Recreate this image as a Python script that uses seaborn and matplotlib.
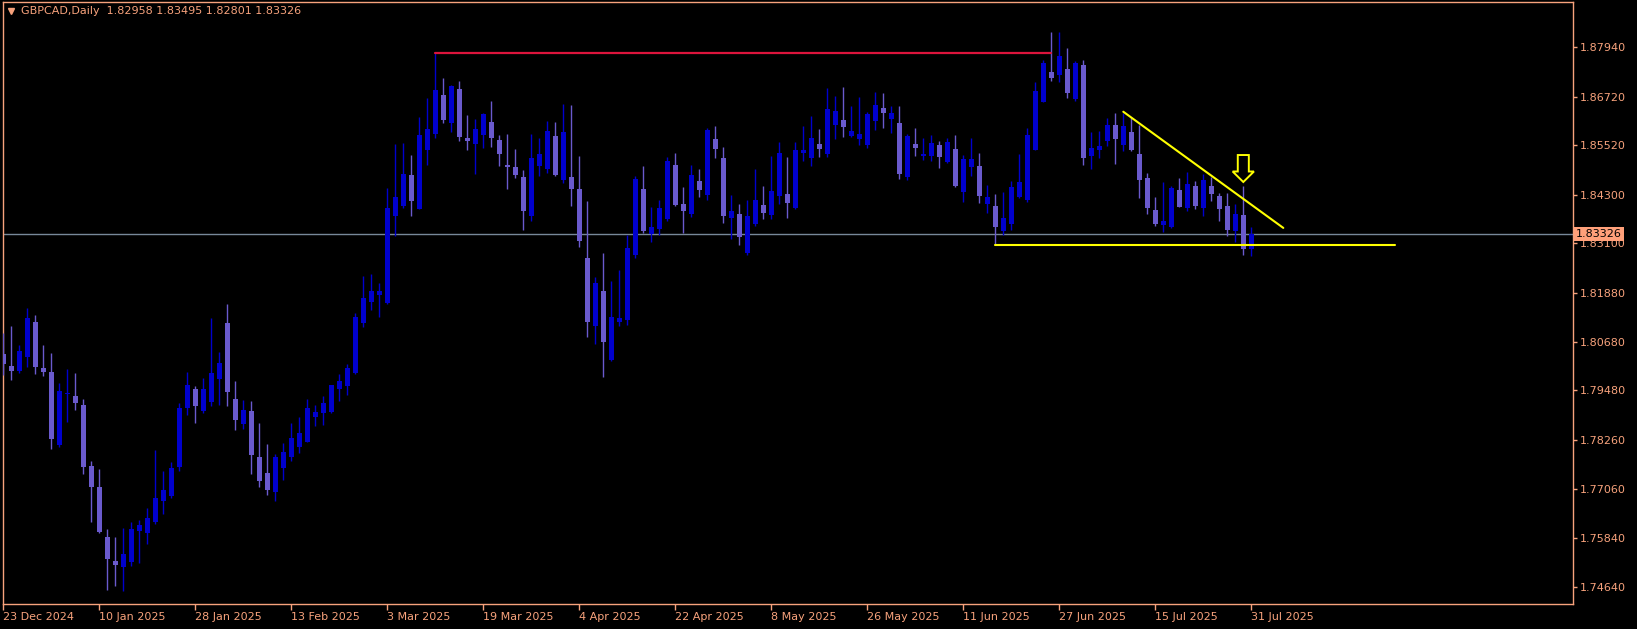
import numpy as np
import pandas as pd
import seaborn as sns
import matplotlib
matplotlib.use("Agg")
import matplotlib.pyplot as plt
import matplotlib.transforms as mtransforms
from matplotlib.patches import Polygon

symbol = "GBPCAD,Daily"

opens = [1.80374, 1.80079, 1.79955, 1.80300, 1.81163, 1.80029, 1.79931, 1.78139, 1.79396, 1.79339,
         1.79118, 1.77609, 1.77097, 1.75860, 1.75276, 1.75138, 1.75256, 1.76018, 1.75958, 1.76234,
         1.76749, 1.76878, 1.77590, 1.79051, 1.79512, 1.78975, 1.79204, 1.79758, 1.81138, 1.79261,
         1.78659, 1.78965, 1.77836, 1.77442, 1.76986, 1.77560, 1.77836, 1.78095, 1.78213, 1.78822,
         1.78923, 1.78945, 1.79512, 1.79586, 1.79906, 1.81138, 1.81656, 1.81828, 1.81631, 1.83775,
         1.84022, 1.84785, 1.83948, 1.85409, 1.85803, 1.86757, 1.86067, 1.86905, 1.85697, 1.85557,
         1.85771, 1.86092, 1.85648, 1.85032, 1.84983, 1.84736, 1.83775, 1.85007, 1.84933, 1.85747,
         1.84662, 1.84736, 1.84441, 1.82740, 1.81064, 1.81929, 1.80229, 1.81158, 1.81217, 1.82814,
         1.84441, 1.83332, 1.83455, 1.83701, 1.85032, 1.84071, 1.83824, 1.84638, 1.84293, 1.85673,
         1.85204, 1.83726, 1.83824, 1.82863, 1.83578, 1.84046, 1.83800, 1.84268, 1.84317, 1.83972,
         1.85328, 1.85212, 1.85549, 1.85310, 1.86018, 1.86141, 1.85747, 1.85673, 1.85525, 1.86116,
         1.86437, 1.86166, 1.86067, 1.84736, 1.85549, 1.85261, 1.85254, 1.85525, 1.85106, 1.85426,
         1.84367, 1.84983, 1.85007, 1.84071, 1.84022, 1.83406, 1.83585, 1.84243, 1.84169, 1.85409,
         1.86592, 1.87324, 1.87250, 1.87398, 1.86658, 1.87496, 1.85254, 1.85402, 1.85623, 1.86018,
         1.85525, 1.85845, 1.85303, 1.84712, 1.83923, 1.83553, 1.83504, 1.84416, 1.83972, 1.84514,
         1.83972, 1.84514, 1.84268, 1.84022, 1.83406, 1.83800, 1.82958]

highs = [1.80899, 1.81064, 1.80589, 1.81508, 1.81336, 1.80596, 1.80399, 1.79652, 1.80005, 1.79906,
         1.79265, 1.77743, 1.77545, 1.76067, 1.75870, 1.76087, 1.76244, 1.76284, 1.76592, 1.78004,
         1.77501, 1.77708, 1.79162, 1.79931, 1.79586, 1.79783, 1.81267, 1.80431, 1.81607, 1.79709,
         1.79231, 1.79211, 1.78686, 1.78154, 1.77905, 1.78184, 1.78686, 1.78815, 1.79258, 1.79118,
         1.79334, 1.79610, 1.79882, 1.80128, 1.81385, 1.82297, 1.82346, 1.82124, 1.84465, 1.85549,
         1.85574, 1.85278, 1.86207, 1.86683, 1.87785, 1.87176, 1.87003, 1.87102, 1.86264, 1.86166,
         1.86313, 1.86609, 1.85771, 1.85796, 1.85426, 1.84909, 1.85796, 1.85697, 1.86116, 1.86092,
         1.86535, 1.86511, 1.85254, 1.84155, 1.82277, 1.82858, 1.82178, 1.82444, 1.83307, 1.84761,
         1.85007, 1.83997, 1.84169, 1.85222, 1.85328, 1.84490, 1.85024, 1.84933, 1.85944, 1.85993,
         1.85468, 1.84293, 1.84071, 1.84169, 1.84933, 1.84514, 1.85254, 1.85599, 1.85229, 1.85599,
         1.85993, 1.86239, 1.85919, 1.86929, 1.86732, 1.86954, 1.86486, 1.86708, 1.86338, 1.86831,
         1.86806, 1.86486, 1.86486, 1.85796, 1.85944, 1.85697, 1.85771, 1.85623, 1.85697, 1.85771,
         1.85278, 1.85697, 1.85328, 1.84539, 1.84317, 1.84367, 1.84638, 1.85303, 1.85944, 1.87077,
         1.87619, 1.88309, 1.88309, 1.87915, 1.87595, 1.87619, 1.85845, 1.85870, 1.86190, 1.86313,
         1.86313, 1.86215, 1.86018, 1.84835, 1.84243, 1.84613, 1.84514, 1.84712, 1.84859, 1.84638,
         1.84810, 1.84736, 1.84342, 1.84342, 1.84071, 1.84514, 1.83495]

lows = [1.79864, 1.79734, 1.79914, 1.80047, 1.79882, 1.79832, 1.78033, 1.78083, 1.78699, 1.78994,
        1.77417, 1.76244, 1.75968, 1.74564, 1.74662, 1.74544, 1.75157, 1.75236, 1.75692, 1.76195,
        1.76444, 1.76838, 1.77501, 1.78871, 1.78681, 1.78913, 1.79093, 1.79118, 1.79093, 1.78499,
        1.78519, 1.77412, 1.77104, 1.76897, 1.76759, 1.77264, 1.77747, 1.77945, 1.78194, 1.78600,
        1.78632, 1.78933, 1.79216, 1.79364, 1.79882, 1.81040, 1.81459, 1.81286, 1.81619, 1.83282,
        1.83972, 1.83775, 1.83936, 1.85032, 1.85705, 1.86074, 1.85853, 1.85623, 1.85402, 1.84810,
        1.85451, 1.85476, 1.85007, 1.84441, 1.84712, 1.83430, 1.83652, 1.84761, 1.84835, 1.84761,
        1.84588, 1.84022, 1.83011, 1.80793, 1.80621, 1.79808, 1.80214, 1.81069, 1.81089, 1.82740,
        1.83356, 1.83134, 1.83307, 1.83652, 1.84022, 1.83356, 1.83751, 1.84243, 1.84169, 1.85204,
        1.83603, 1.83208, 1.83061, 1.82814, 1.83529, 1.83701, 1.83701, 1.84071, 1.83726, 1.83948,
        1.85131, 1.85007, 1.85229, 1.85229, 1.85673, 1.85722, 1.85722, 1.85525, 1.85451, 1.85894,
        1.85944, 1.85821, 1.84687, 1.84662, 1.85254, 1.85155, 1.85131, 1.84958, 1.85081, 1.84490,
        1.84120, 1.84761, 1.84096, 1.83849, 1.83065, 1.83307, 1.83430, 1.84231, 1.84120, 1.85402,
        1.86584, 1.87102, 1.87077, 1.86683, 1.86609, 1.85032, 1.84933, 1.85204, 1.85500, 1.85057,
        1.85377, 1.85377, 1.84219, 1.83824, 1.83529, 1.83381, 1.83479, 1.83985, 1.83898, 1.83948,
        1.83775, 1.84145, 1.83652, 1.83282, 1.83134, 1.82814, 1.82801]

closes = [1.80128, 1.79963, 1.80448, 1.81262, 1.80061, 1.79938, 1.78287, 1.79463, 1.79413, 1.79174,
          1.77597, 1.77104, 1.75988, 1.75325, 1.75187, 1.75453, 1.76057, 1.76156, 1.76333, 1.76828,
          1.77025, 1.77560, 1.79054, 1.79610, 1.79100, 1.79507, 1.79901, 1.80153, 1.79445, 1.78748,
          1.78994, 1.77895, 1.77255, 1.77025, 1.77836, 1.77954, 1.78302, 1.78430, 1.79054, 1.78950,
          1.79164, 1.79608, 1.79709, 1.80029, 1.81286, 1.81754, 1.81927, 1.81927, 1.83972, 1.84243,
          1.84810, 1.84145, 1.85771, 1.85919, 1.86880, 1.86141, 1.86979, 1.85722, 1.85623, 1.85919,
          1.86301, 1.85697, 1.85303, 1.84983, 1.84785, 1.83898, 1.85204, 1.85303, 1.85870, 1.84785,
          1.85845, 1.84441, 1.83159, 1.81163, 1.82124, 1.80665, 1.81286, 1.81257, 1.82987, 1.84687,
          1.83406, 1.83504, 1.83972, 1.85131, 1.84046, 1.83898, 1.84785, 1.84416, 1.85894, 1.85426,
          1.83775, 1.83898, 1.83258, 1.83775, 1.84169, 1.83849, 1.84391, 1.85328, 1.84096, 1.85402,
          1.85402, 1.85697, 1.85426, 1.86412, 1.86363, 1.85968, 1.85870, 1.85796, 1.86289, 1.86511,
          1.86313, 1.86313, 1.84810, 1.85747, 1.85451, 1.85303, 1.85574, 1.85229, 1.85599, 1.84514,
          1.85180, 1.85180, 1.84268, 1.84243, 1.83504, 1.83726, 1.84490, 1.84613, 1.85771, 1.86856,
          1.87546, 1.87176, 1.87718, 1.86806, 1.87546, 1.85204, 1.85451, 1.85500, 1.86018, 1.85673,
          1.85993, 1.85402, 1.84662, 1.83972, 1.83578, 1.83652, 1.84465, 1.83997, 1.84564, 1.84022,
          1.84662, 1.84317, 1.83948, 1.83430, 1.83824, 1.82960, 1.83326]

date_labels = ["23 Dec 2024", "10 Jan 2025", "28 Jan 2025", "13 Feb 2025", "3 Mar 2025",
               "19 Mar 2025", "4 Apr 2025", "22 Apr 2025", "8 May 2025", "26 May 2025",
               "11 Jun 2025", "27 Jun 2025", "15 Jul 2025", "31 Jul 2025"]
label_step = 12

ytick_values = [1.87940, 1.86720, 1.85520, 1.84300, 1.83100, 1.81880,
                1.80680, 1.79480, 1.78260, 1.77060, 1.75840, 1.74640]

# drawn objects
resistance_level = 1.87790
resistance_bars = [54, 131]
support_level = 1.83065
support_bars = [124, 174]
trend_bars = [140, 160]
trend_prices = [1.86345, 1.83482]
arrow_bar = 155
arrow_prices = [1.85278, 1.84872, 1.84613]  # shaft top, neck, tip

BG = "#000000"
FG = "#F7A27C"
BULL = "#0000CD"
BEAR = "#6A5ACD"
BIDLINE = "#778899"

sns.set_theme(style="dark", rc={"axes.facecolor": BG, "figure.facecolor": BG})
plt.rcParams["font.family"] = ["DejaVu Sans"]

df = pd.DataFrame({"open": opens, "high": highs, "low": lows, "close": closes})
df["bar"] = np.arange(len(df))
df["bull"] = df["close"] >= df["open"]
df["color"] = np.where(df["bull"], BULL, BEAR)
df["body_low"] = df[["open", "close"]].min(axis=1)
df["body_h"] = (df["close"] - df["open"]).abs().clip(lower=0.00025)

W, H = 1637, 629
fig = plt.figure(figsize=(W / 100, H / 100), dpi=100, facecolor=BG)
ax = fig.add_axes([2.5 / W, (H - 604) / H, (1573.3 - 2.5) / W, (604 - 2.4) / H], facecolor=BG)

# candles
ax.vlines(df["bar"], df["low"], df["high"], colors=df["color"], linewidth=1.0, zorder=3)
ax.bar(df["bar"], df["body_h"], bottom=df["body_low"], width=0.62, color=df["color"],
       linewidth=0, zorder=4)

# bid line
ax.axhline(closes[-1], color=BIDLINE, linewidth=1.0, zorder=2)

# horizontal resistance / support and trend line
sns.lineplot(x=resistance_bars, y=[resistance_level] * 2, ax=ax, color="#DC143C",
             linewidth=1.6, legend=False, zorder=5)
sns.lineplot(x=support_bars, y=[support_level] * 2, ax=ax, color="#FFFF00",
             linewidth=1.5, legend=False, zorder=5)
sns.lineplot(x=trend_bars, y=trend_prices, ax=ax, color="#FFFF00",
             linewidth=1.5, legend=False, zorder=5)

# hollow down arrow
top, neck, tip = arrow_prices
sw, hw = 0.69, 1.33
verts = [(arrow_bar - sw, top), (arrow_bar + sw, top), (arrow_bar + sw, neck),
         (arrow_bar + hw, neck), (arrow_bar, tip), (arrow_bar - hw, neck), (arrow_bar - sw, neck)]
ax.add_patch(Polygon(verts, closed=True, facecolor=BG, edgecolor="#FFFF00", linewidth=1.4, zorder=6))

ax.set_xlim(-0.1, 196.25)
ax.set_ylim(1.74214, 1.89039)

# axes styling
for sp in ax.spines.values():
    sp.set_color(FG)
    sp.set_linewidth(1.0)
    sp.set_visible(True)
ax.grid(False)

ax.yaxis.tick_right()
ax.set_yticks(ytick_values)
ax.set_yticklabels([f"{v:.5f}" for v in ytick_values])
ax.tick_params(axis="y", colors=FG, labelsize=8, length=3, width=1, direction="out", pad=2,
               left=False, right=True)

xt = list(range(0, len(opens), label_step))
ax.set_xticks(xt)
ax.set_xticklabels(date_labels[:len(xt)])
ax.tick_params(axis="x", colors=FG, labelsize=8, length=4, width=1, direction="out", pad=2,
               bottom=True)
for lbl in ax.get_xticklabels():
    lbl.set_ha("left")
ax.set_xlabel("")
ax.set_ylabel("")

# current price label on the axis
trans = mtransforms.blended_transform_factory(ax.transAxes, ax.transData)
ax.text(1.0016, closes[-1], f"{closes[-1]:.5f}", transform=trans, ha="left", va="center",
        fontsize=8, color="#000000", zorder=10, clip_on=False,
        bbox=dict(boxstyle="square,pad=0.18", facecolor="#FFA07A", edgecolor="none"))

# header
ax.plot([0.0052], [0.986], marker="v", color=FG, markersize=5, transform=ax.transAxes,
        clip_on=False, zorder=10)
header = f"{symbol}  {opens[-1]:.5f} {highs[-1]:.5f} {lows[-1]:.5f} {closes[-1]:.5f}"
fig.text(21.3 / W, 1 - 10.5 / H, header, ha="left", va="center", fontsize=8, color=FG)

fig.savefig("out.png", dpi=100, facecolor=BG)
